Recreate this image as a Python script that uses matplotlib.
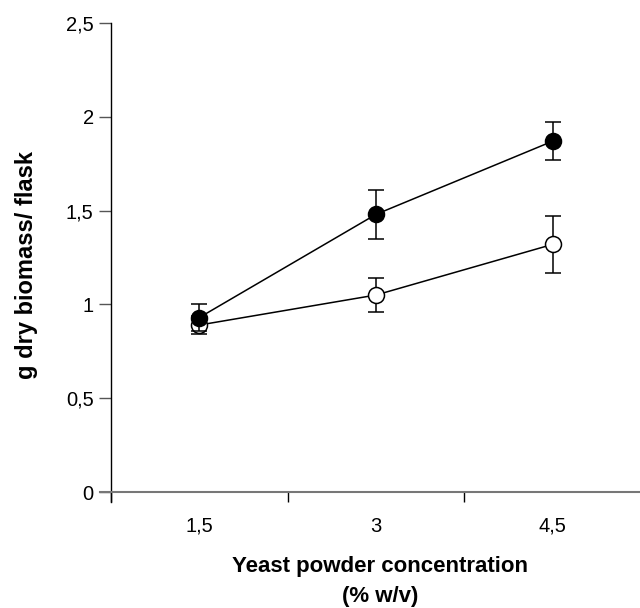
import matplotlib.pyplot as plt
import numpy as np

plt.rcParams['font.family'] = ['Liberation Sans', 'DejaVu Sans']

# data
concentration = ['1,5', '3', '4,5']
filled_mean = [0.93, 1.48, 1.87]
filled_err = [0.07, 0.13, 0.10]
open_mean = [0.89, 1.05, 1.32]
open_err = [0.05, 0.09, 0.15]
y_ticks = [0, 0.5, 1, 1.5, 2, 2.5]
y_labels = ['0', '0,5', '1', '1,5', '2', '2,5']

x = np.arange(len(concentration))

W, H = 640, 608
xlo, xhi = -0.56, 2.5
ylo, yhi = -0.055, 2.5
# pixel anchors: x=-0.5 -> 111px, x=2.5 -> 641px, y=0 -> 492px, y=2.5 -> 23px
ux = (641 - 111) / 3.0
uy = (492 - 23) / 2.5
left = 111 + (xlo + 0.5) * ux
bottom = 492 - ylo * uy

fig = plt.figure(figsize=(W / 100, H / 100), dpi=100)
ax = fig.add_axes([left / W, 1 - bottom / H, (xhi - xlo) * ux / W, (yhi - ylo) * uy / H])

style = dict(color='black', lw=1.1, ms=11.5, mew=1.1, capsize=5.7, elinewidth=1.1, capthick=1.1)

# open circles first so the filled ones sit on top
ax.errorbar(x, open_mean, yerr=open_err, fmt='-o', mfc='white', mec='black', zorder=3, **style)
ax.errorbar(x, filled_mean, yerr=filled_err, fmt='-o', mfc='black', mec='black', zorder=4, **style)

ax.set_xlim(xlo, xhi)
ax.set_ylim(ylo, yhi)

ax.spines['top'].set_visible(False)
ax.spines['right'].set_visible(False)
ax.spines['left'].set_position(('data', -0.5))
ax.spines['bottom'].set_position(('data', 0))
ax.spines['left'].set_linewidth(1.0)
ax.spines['bottom'].set_linewidth(1.5)
ax.spines['bottom'].set_color('#777777')

ax.set_yticks(y_ticks)
ax.set_yticklabels(y_labels)
ax.tick_params(axis='y', direction='out', length=8.5, width=1.0, color='#555555', pad=4, labelsize=14.5)

# category boundaries as major ticks, labels centred between them
ax.set_xticks([-0.5, 0.5, 1.5, 2.5])
ax.set_xticklabels([])
ax.set_xticks(x, minor=True)
ax.set_xticklabels(concentration, minor=True)
ax.tick_params(axis='x', which='major', direction='out', length=7.5, width=1.0, color='black')
ax.tick_params(axis='x', which='minor', length=0, pad=18, labelsize=14.5)

fig.text(380 / W, 1 - 572 / H, 'Yeast powder concentration', ha='center', va='baseline',
         fontsize=16, fontweight='bold')
fig.text(380 / W, 1 - 602 / H, '(% w/v)', ha='center', va='baseline',
         fontsize=16, fontweight='bold')
fig.text(27 / W, 1 - 265 / H, 'g dry biomass/ flask', rotation=90, ha='center', va='center',
         fontsize=17, fontweight='bold')

fig.savefig('out.png', dpi=100)
